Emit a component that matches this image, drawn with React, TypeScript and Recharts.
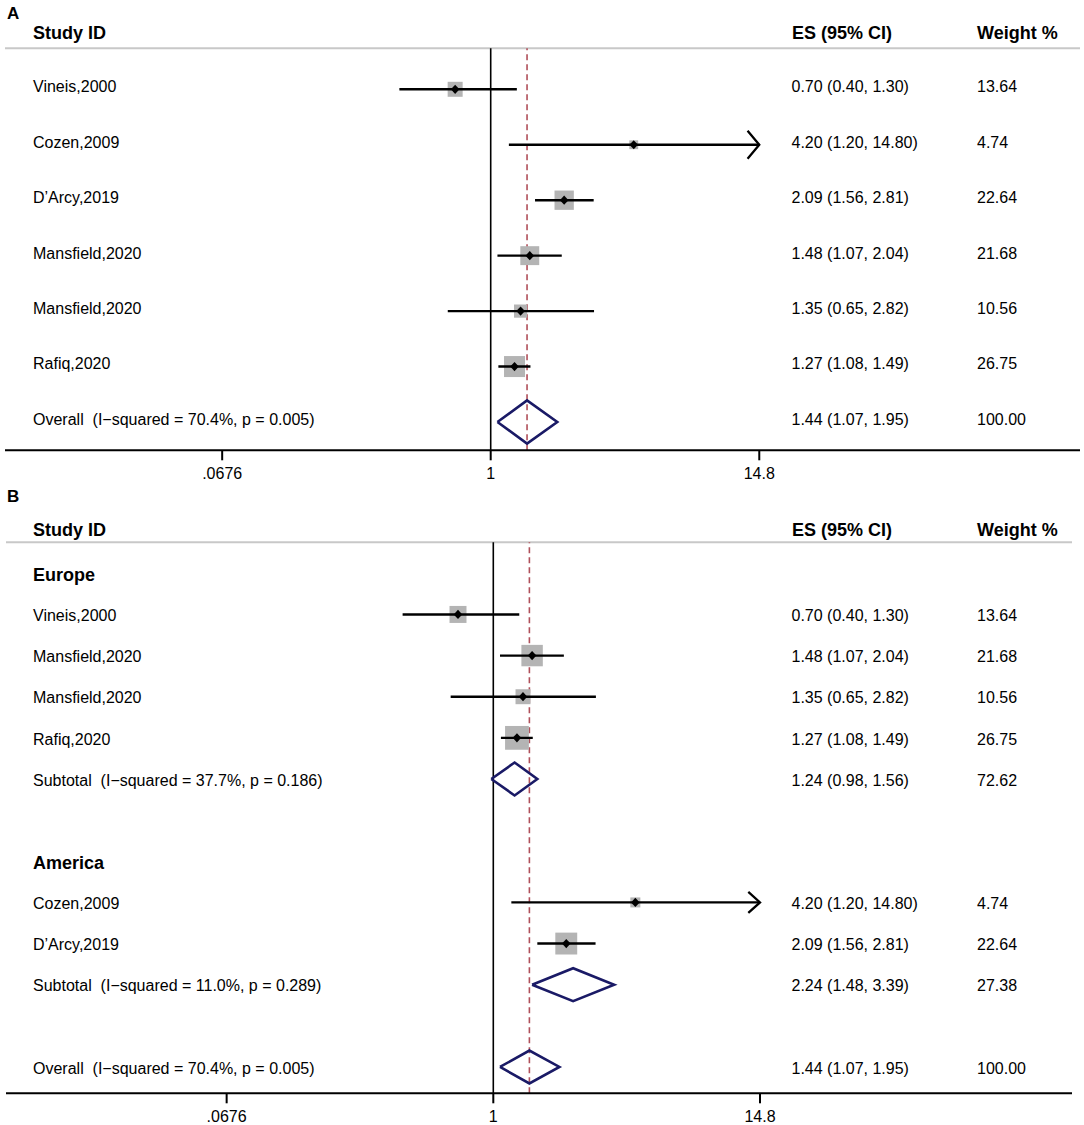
import React from 'react'
import { ComposedChart, XAxis, YAxis, Scatter, ReferenceLine } from 'recharts'

const FONT = '"Liberation Sans", Arial, Helvetica, sans-serif'
const NAVY = '#1a1a66'
const BOX = '#b4b4b4'
const DASH = '#b0505a'

// study level results
const studyNames = ['Vineis,2000', 'Cozen,2009', 'D’Arcy,2019', 'Mansfield,2020', 'Mansfield,2020', 'Rafiq,2020']
const studyES = [0.7, 4.2, 2.09, 1.48, 1.35, 1.27]
const studyLow = [0.4, 1.2, 1.56, 1.07, 0.65, 1.08]
const studyHigh = [1.3, 14.8, 2.81, 2.04, 2.82, 1.49]
const studyWeight = [13.64, 4.74, 22.64, 21.68, 10.56, 26.75]

// subgroups (panel B)
const groupNames = ['Europe', 'America']
const groupStudies = [[0, 3, 4, 5], [1, 2]]
const groupHet = ['I−squared = 37.7%, p = 0.186', 'I−squared = 11.0%, p = 0.289']
const groupES = [1.24, 2.24]
const groupLow = [0.98, 1.48]
const groupHigh = [1.56, 3.39]
const groupWeight = [72.62, 27.38]

// pooled estimate
const overallHet = 'I−squared = 70.4%, p = 0.005'
const overallES = 1.44
const overallLow = 1.07
const overallHigh = 1.95
const overallWeight = 100

const xTicks = [0.0676, 1, 14.8]
const xTickLabels = ['.0676', '1', '14.8']

type Row = {
  y: number
  kind: 'study' | 'pooled' | 'group' | 'blank'
  label: string
  es?: number
  lo?: number
  hi?: number
  w?: number
}

const studyRow = (i: number, y: number): Row => ({
  y, kind: 'study', label: studyNames[i], es: studyES[i], lo: studyLow[i], hi: studyHigh[i], w: studyWeight[i],
})

const overallRow = (y: number): Row => ({
  y, kind: 'pooled', label: `Overall  (${overallHet})`, es: overallES, lo: overallLow, hi: overallHigh, w: overallWeight,
})

const rowsA: Row[] = [...studyNames.map((_, i) => studyRow(i, i)), overallRow(studyNames.length)]

const rowsB: Row[] = (() => {
  const out: Row[] = []
  groupNames.forEach((g, gi) => {
    out.push({ y: out.length, kind: 'group', label: g })
    groupStudies[gi].forEach((s) => out.push(studyRow(s, out.length)))
    out.push({
      y: out.length, kind: 'pooled', label: `Subtotal  (${groupHet[gi]})`,
      es: groupES[gi], lo: groupLow[gi], hi: groupHigh[gi], w: groupWeight[gi],
    })
    out.push({ y: out.length, kind: 'blank', label: '' })
  })
  out.push(overallRow(out.length))
  return out
})()

type Cfg = {
  rows: Row[]
  top: number
  height: number
  left: number
  right: number
  plotTop: number
  plotBottom: number
  row0: number
  step: number
  px1: number
  ppd: number
  box: number
  dHalf: number
  arrowHalf: number
  textDy: number
}

const fmt = (v?: number) => (v === undefined ? '' : v.toFixed(2))

const RowTick = ({ y, payload, rows, dy }: any) => {
  const row: Row | undefined = rows[payload.value]
  if (!row || row.kind === 'blank') return <g />
  const cy = y + dy
  if (row.kind === 'group') {
    return (
      <text x={33} y={cy + 6.4} fontSize={18} fontWeight="bold" fontFamily={FONT} fill="#000">
        {row.label}
      </text>
    )
  }
  return (
    <g fontSize={16} fontFamily={FONT} fill="#000">
      <text x={33} y={cy + 5.7} style={{ whiteSpace: 'pre' }}>{row.label}</text>
      <text x={791.5} y={cy + 5.7}>{`${fmt(row.es)} (${fmt(row.lo)}, ${fmt(row.hi)})`}</text>
      <text x={977} y={cy + 5.7}>{fmt(row.w)}</text>
    </g>
  )
}

const noDot = () => <g />

const Panel = ({ cfg }: { cfg: Cfg }) => {
  const { rows, height, left, right, plotTop, plotBottom, row0, step, px1, ppd } = cfg
  const yDomain = [(plotTop - row0) / step, (plotBottom - row0) / step]
  const xDomain = [Math.pow(10, (left - px1) / ppd), Math.pow(10, (right - px1) / ppd)]
  const studies = rows.filter((r) => r.kind === 'study')
  const pooled = rows.filter((r) => r.kind === 'pooled')
  const arrows = studies.filter((r) => (r.hi as number) >= xTicks[xTicks.length - 1]).map((r) => ({ x: r.hi, y: r.y }))
  const squareData = studies.map((r) => ({ x: r.es, y: r.y, w: r.w }))

  const squareShape = (p: any) => {
    const s = cfg.box * Math.sqrt(p.payload.w)
    return <rect x={p.cx - s / 2} y={p.cy - s / 2} width={s} height={s} fill={BOX} />
  }
  const pointShape = (p: any) => (
    <polygon
      points={`${p.cx},${p.cy - 4.6} ${p.cx + 4.3},${p.cy} ${p.cx},${p.cy + 4.6} ${p.cx - 4.3},${p.cy}`}
      fill="#000"
    />
  )
  const arrowShape = (p: any) => (
    <polyline
      points={`${p.cx - 11.7},${p.cy - cfg.arrowHalf} ${p.cx},${p.cy} ${p.cx - 11.7},${p.cy + cfg.arrowHalf}`}
      fill="none"
      stroke="#000"
      strokeWidth={2.3}
    />
  )

  return (
    <ComposedChart
      width={1084}
      height={height}
      margin={{ top: plotTop, left: 0, right: 1084 - right, bottom: 0 }}
    >
      <XAxis
        type="number"
        dataKey="x"
        scale="log"
        domain={xDomain}
        allowDataOverflow
        ticks={xTicks}
        interval={0}
        tickFormatter={(v: number) => xTickLabels[xTicks.indexOf(v)] ?? String(v)}
        height={height - plotBottom}
        axisLine={{ stroke: '#000', strokeWidth: 2 }}
        tickLine={{ stroke: '#000', strokeWidth: 2 }}
        tickSize={10}
        tickMargin={7}
        tick={{ fill: '#000', fontSize: 16, fontFamily: FONT }}
      />
      <YAxis
        type="number"
        dataKey="y"
        domain={yDomain}
        reversed
        allowDataOverflow
        width={left}
        ticks={rows.map((r) => r.y)}
        interval={0}
        axisLine={false}
        tickLine={false}
        tick={(p: any) => <RowTick {...p} rows={rows} dy={cfg.textDy} />}
      />
      <ReferenceLine y={yDomain[0]} stroke="#c8c8c8" strokeWidth={2} ifOverflow="visible" />
      <ReferenceLine x={1} stroke="#000" strokeWidth={1.6} />
      <ReferenceLine x={overallES} stroke={DASH} strokeWidth={1.6} strokeDasharray="6 4" />
      <Scatter data={squareData} shape={squareShape} isAnimationActive={false} />
      {studies.map((r) => (
        <Scatter
          key={`ci-${r.y}`}
          data={[{ x: r.lo, y: r.y }, { x: r.hi, y: r.y }]}
          line={{ stroke: '#000', strokeWidth: 2.4 }}
          lineType="joint"
          shape={noDot}
          isAnimationActive={false}
        />
      ))}
      <Scatter data={squareData} shape={pointShape} isAnimationActive={false} />
      <Scatter data={arrows} shape={arrowShape} isAnimationActive={false} />
      {pooled.map((r) => (
        <Scatter
          key={`dm-${r.y}`}
          data={[
            { x: r.lo, y: r.y },
            { x: r.es, y: r.y - cfg.dHalf },
            { x: r.hi, y: r.y },
            { x: r.es, y: r.y + cfg.dHalf },
            { x: r.lo, y: r.y },
          ]}
          line={{ stroke: NAVY, strokeWidth: 2.6, strokeLinejoin: 'miter' }}
          lineType="joint"
          shape={noDot}
          isAnimationActive={false}
        />
      ))}
    </ComposedChart>
  )
}

const cfgA: Cfg = {
  rows: rowsA, top: 0, height: 490, left: 5, right: 1080, plotTop: 48.3, plotBottom: 450.3,
  row0: 89.3, step: 55.45, px1: 490.7, ppd: 229.5, box: 4.06, dHalf: 0.39, arrowHalf: 14, textDy: -2.8,
}

const cfgB: Cfg = {
  rows: rowsB, top: 490, height: 635, left: 6, right: 1072, plotTop: 52.3, plotBottom: 603.3,
  row0: 83.3, step: 41.14, px1: 493.3, ppd: 227.9, box: 4.6, dHalf: 0.4, arrowHalf: 10.5, textDy: 1,
}

const headers = [
  { label: 'A', x: 7, y: 18.5, size: 17 },
  { label: 'Study ID', x: 33, y: 39, size: 18 },
  { label: 'ES (95% CI)', x: 792, y: 38.5, size: 18 },
  { label: 'Weight %', x: 977, y: 38.5, size: 18 },
  { label: 'B', x: 7, y: 502, size: 17 },
  { label: 'Study ID', x: 33, y: 536, size: 18 },
  { label: 'ES (95% CI)', x: 792, y: 536, size: 18 },
  { label: 'Weight %', x: 977, y: 536, size: 18 },
]

export default function App() {
  return (
    <div style={{ position: 'absolute', left: 0, top: 0, width: 1084, height: 1125, background: '#fff' }}>
      {[cfgA, cfgB].map((c, i) => (
        <div key={i} style={{ position: 'absolute', left: 0, top: c.top }}>
          <Panel cfg={c} />
        </div>
      ))}
      <svg width={1084} height={1125} style={{ position: 'absolute', left: 0, top: 0, pointerEvents: 'none' }}>
        {headers.map((h, i) => (
          <text key={i} x={h.x} y={h.y} fontSize={h.size} fontWeight="bold" fontFamily={FONT} fill="#000">
            {h.label}
          </text>
        ))}
      </svg>
    </div>
  )
}
